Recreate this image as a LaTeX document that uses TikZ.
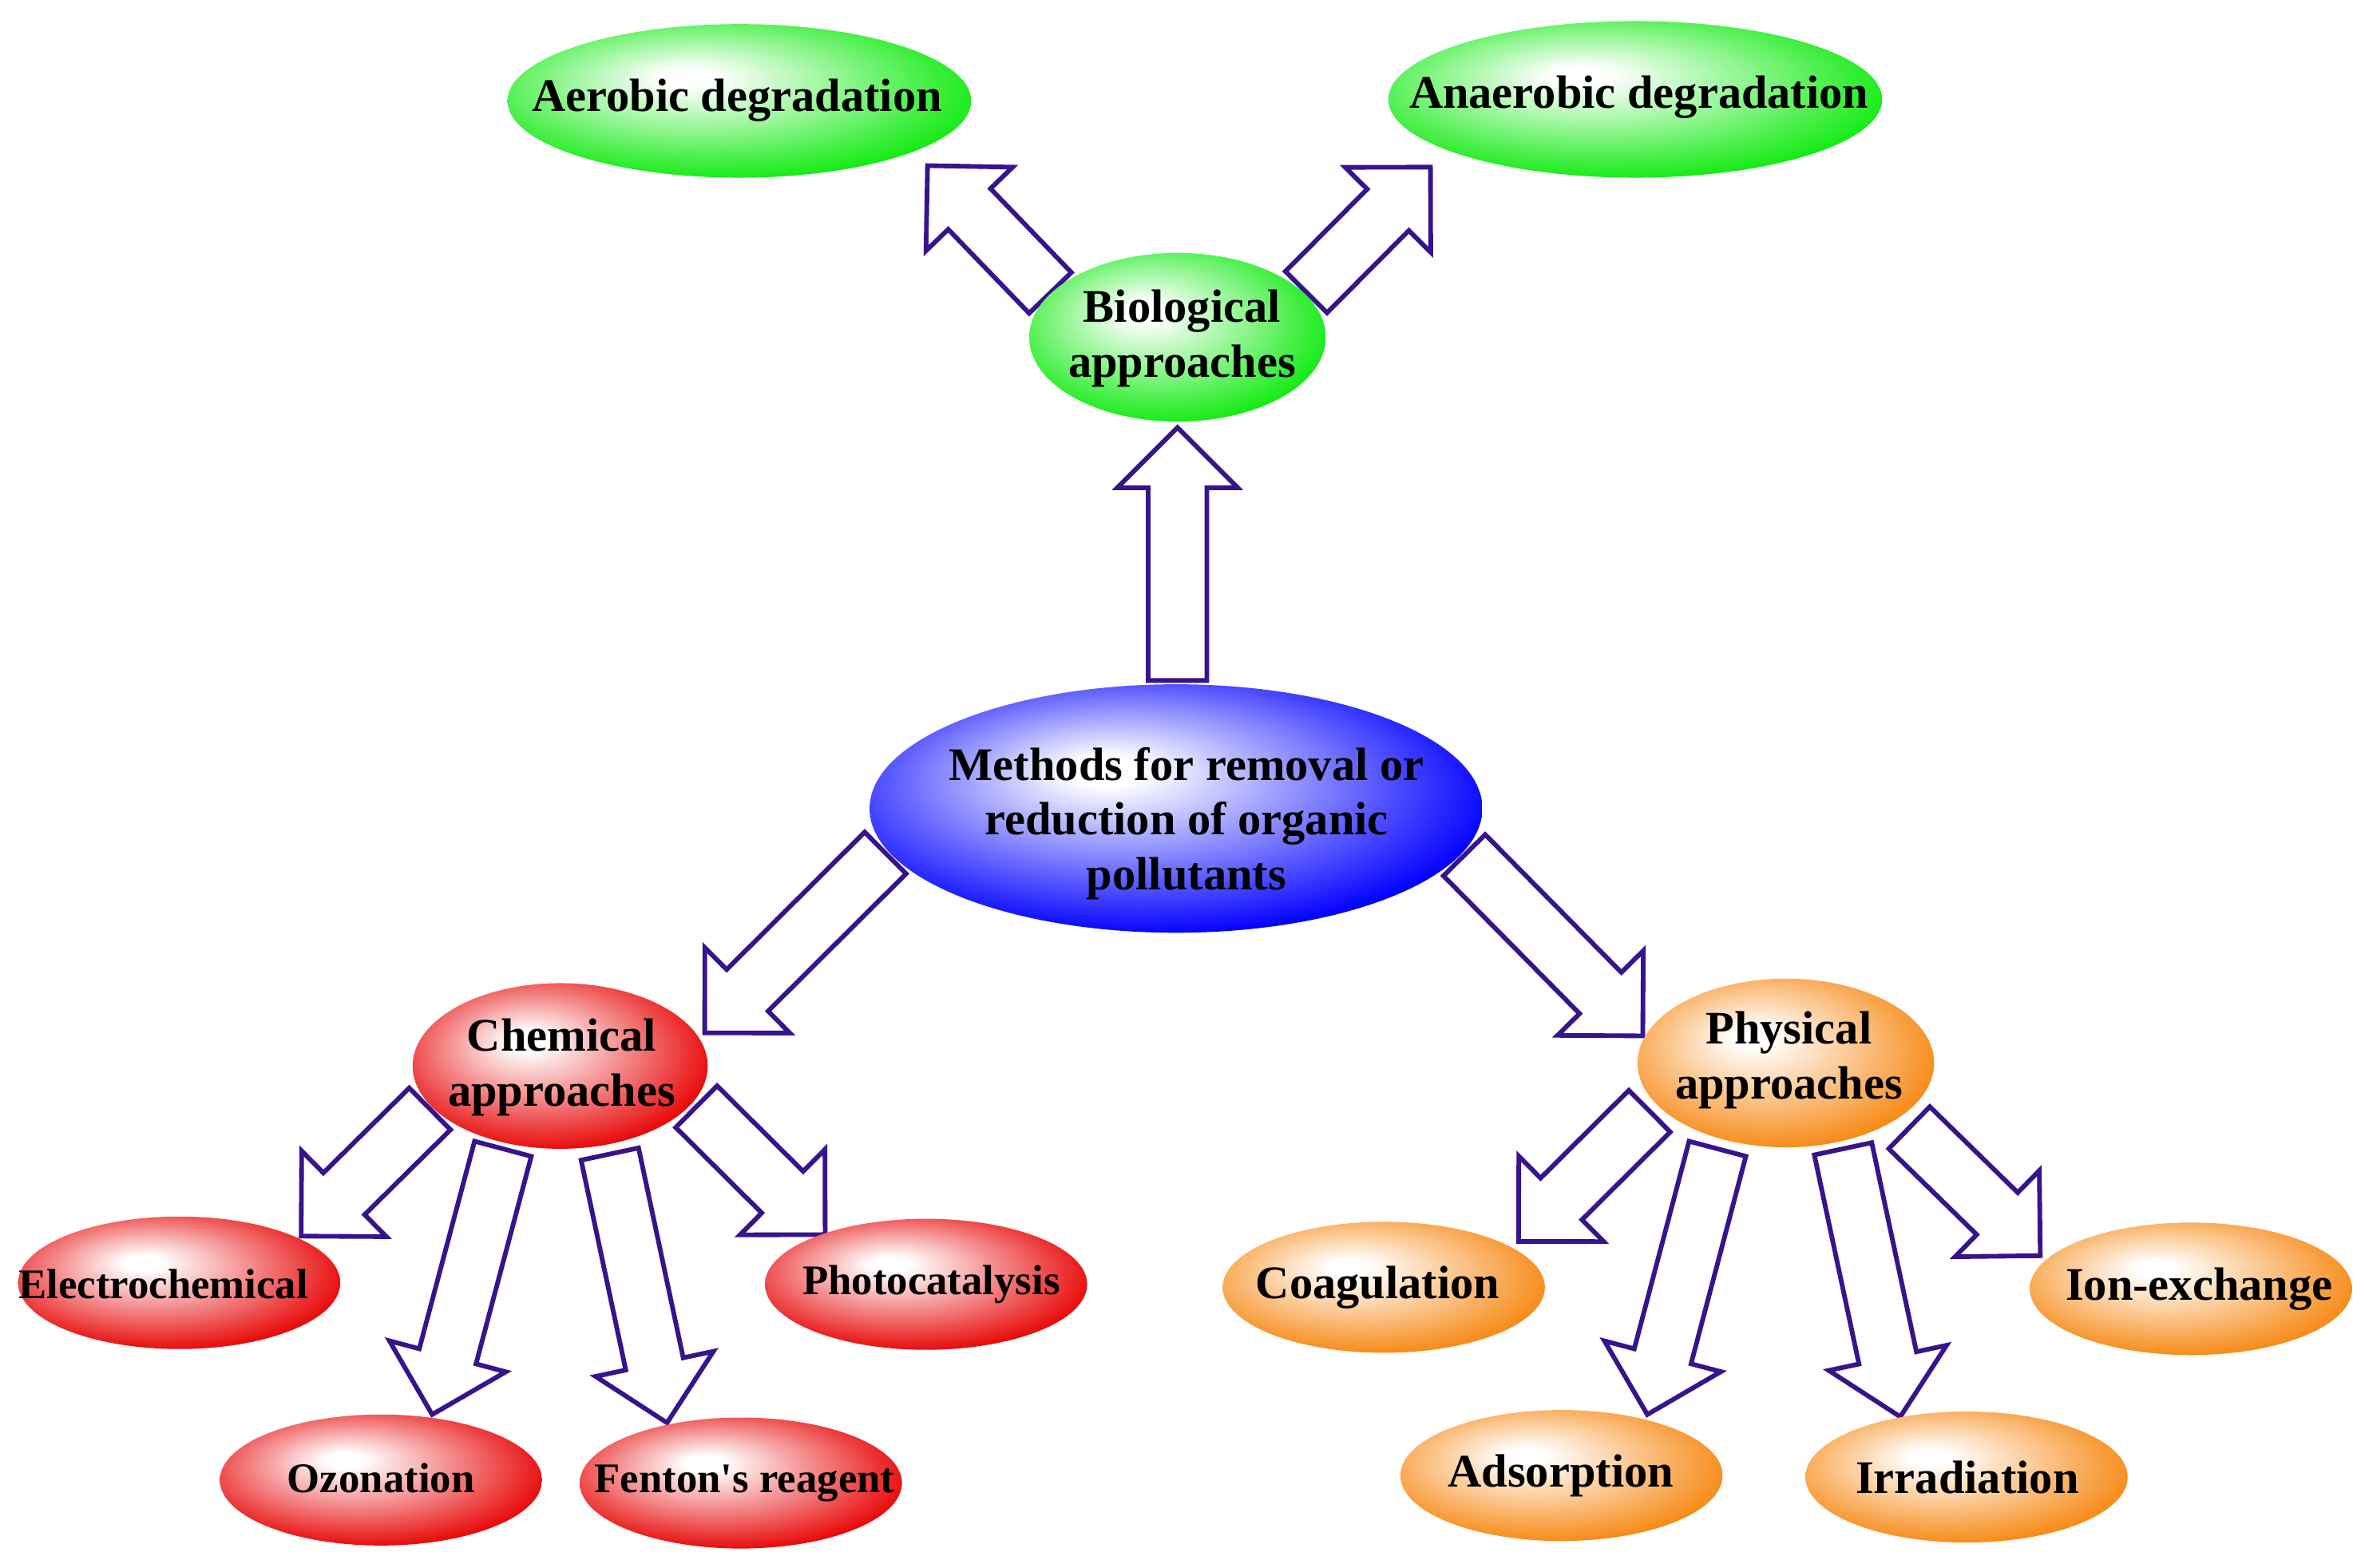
\documentclass[tikz,border=0pt]{standalone}
\usepackage{fontspec}
\setmainfont{Liberation Serif}[Ligatures=TeXOff]
\usetikzlibrary{shapes.geometric,calc}
\pgfdeclarelayer{background}
\pgfsetlayers{background,main}
\definecolor{cgreen}{RGB}{20,235,20}
\definecolor{cblue}{RGB}{0,0,255}
\definecolor{cred}{RGB}{232,8,8}
\definecolor{corange}{RGB}{247,138,22}
\definecolor{arrowcol}{RGB}{55,20,140}
\pgfdeclareradialshading{gball}{\pgfpoint{-6bp}{8bp}}{color(0bp)=(white); color(3bp)=(white); color(29bp)=(cgreen); color(50bp)=(cgreen)}
\pgfdeclareradialshading{bball}{\pgfpoint{-6bp}{8bp}}{color(0bp)=(white); color(3bp)=(white); color(29bp)=(cblue); color(50bp)=(cblue)}
\pgfdeclareradialshading{rball}{\pgfpoint{-6bp}{8bp}}{color(0bp)=(white); color(3bp)=(white); color(29bp)=(cred); color(50bp)=(cred)}
\pgfdeclareradialshading{oball}{\pgfpoint{-6bp}{8bp}}{color(0bp)=(white); color(3bp)=(white); color(29bp)=(corange); color(50bp)=(corange)}
\tikzset{
  bub/.style={ellipse, inner sep=0pt, outer sep=0pt, draw=none, shade},
  gb/.style={bub, shading=gball},
  bb/.style={bub, shading=bball},
  rb/.style={bub, shading=rball},
  ob/.style={bub, shading=oball},
  big/.style={minimum width=214pt, minimum height=87pt},
  lbl/.style={inner sep=0pt, align=center, text=black, font=\bfseries\fontsize{31}{36.5}\selectfont},
  lbls/.style={lbl, font=\bfseries\fontsize{28}{33}\selectfont},
  barrow/.style={draw=arrowcol, line width=3.1pt, fill=white, line join=miter},
}
\newcommand{\blockarrow}[2]{%
  \coordinate (bah) at ($(#2)!40pt!(#1)$);
  \draw[barrow] ($(#1)!19.5pt!90:(#2)$) -- ($(bah)!19.5pt!-90:(#1)$) -- ($(bah)!40pt!-90:(#1)$) -- (#2) -- ($(bah)!40pt!90:(#1)$) -- ($(bah)!19.5pt!90:(#1)$) -- ($(#1)!19.5pt!-90:(#2)$) -- cycle;
}
\begin{document}
\begin{tikzpicture}[x=1pt,y=-1pt]
\useasboundingbox (0,0) rectangle (1568,1041);
% ellipses
\node[gb, minimum width=308pt, minimum height=102pt] (aer) at (491,67) {};
\node[gb, minimum width=328pt, minimum height=104pt] (anaer) at (1086,66) {};
\node[gb, minimum width=197pt, minimum height=112pt] (bio) at (782,224) {};
\node[bb, minimum width=407pt, minimum height=165pt] (meth) at (781,537) {};
\node[rb, minimum width=196pt, minimum height=110pt] (chem) at (372,708) {};
\node[ob, minimum width=197pt, minimum height=112pt] (phys) at (1186,706) {};
\node[rb, big, minimum height=88pt] (elec) at (119,852) {};
\node[rb, big] (photo) at (615,853) {};
\node[rb, big] (ozo) at (253,983) {};
\node[rb, big] (fent) at (492,985) {};
\node[ob, big] (coag) at (919,855) {};
\node[ob, big, minimum height=88pt] (ion) at (1455,856) {};
\node[ob, big] (ads) at (1037,980) {};
\node[ob, big] (irr) at (1306,981) {};
% texts
\node[lbl] (aer-t) at (489.5,66.5) {Aerobic degradation};
\node[lbl] (anaer-t) at (1088.5,64.5) {Anaerobic degradation};
\node[lbl] (bio-t) at (785,225) {Biological\\approaches};
\node[lbl] (meth-t) at (788,547) {Methods for removal or\\reduction of organic\\pollutants};
\node[lbl] (chem-t) at (373,709) {Chemical\\approaches};
\node[lbl] (phys-t) at (1188,704) {Physical\\approaches};
\node[lbls] (elec-t) at (108.5,853) {Electrochemical};
\node[lbls] (photo-t) at (618.5,853) {Photocatalysis};
\node[lbls] (ozo-t) at (253,982) {Ozonation};
\node[lbls] (fent-t) at (494.5,985) {Fenton's reagent};
\node[lbl] (coag-t) at (915,855) {Coagulation};
\node[lbl] (ion-t) at (1460.5,856) {Ion-exchange};
\node[lbl] (ads-t) at (1036.5,980) {Adsorption};
\node[lbl] (irr-t) at (1306.5,981) {Irradiation};
% arrow end points
\coordinate (a1s) at (782,452);   \coordinate (a1e) at (782,284);
\coordinate (a2s) at (697.5,194.5); \coordinate (a2e) at (616,110);
\coordinate (a3s) at (867.5,194); \coordinate (a3e) at (950,111);
\coordinate (a4s) at (588,566.5); \coordinate (a4e) at (468,686);
\coordinate (a5s) at (972.5,568); \coordinate (a5e) at (1091,688);
\coordinate (a6s) at (285.5,736.5); \coordinate (a6e) at (200,821);
\coordinate (a7s) at (334,763);   \coordinate (a7e) at (287,939.5);
\coordinate (a8s) at (405,766.5); \coordinate (a8e) at (443,945);
\coordinate (a9s) at (462.5,735); \coordinate (a9e) at (548,820);
\coordinate (b1s) at (1095.5,738); \coordinate (b1e) at (1008.5,824.5);
\coordinate (b2s) at (1140.6,763); \coordinate (b2e) at (1094,939.5);
\coordinate (b3s) at (1224,763);  \coordinate (b3e) at (1262,941);
\coordinate (b4s) at (1268,749);  \coordinate (b4e) at (1355,834);
\begin{pgfonlayer}{background}
\blockarrow{a1s}{a1e}
\blockarrow{a2s}{a2e}
\blockarrow{a3s}{a3e}
\blockarrow{a4s}{a4e}
\blockarrow{a5s}{a5e}
\blockarrow{a6s}{a6e}
\blockarrow{a7s}{a7e}
\blockarrow{a8s}{a8e}
\blockarrow{a9s}{a9e}
\blockarrow{b1s}{b1e}
\blockarrow{b2s}{b2e}
\blockarrow{b3s}{b3e}
\blockarrow{b4s}{b4e}
\end{pgfonlayer}
\end{tikzpicture}
\end{document}
